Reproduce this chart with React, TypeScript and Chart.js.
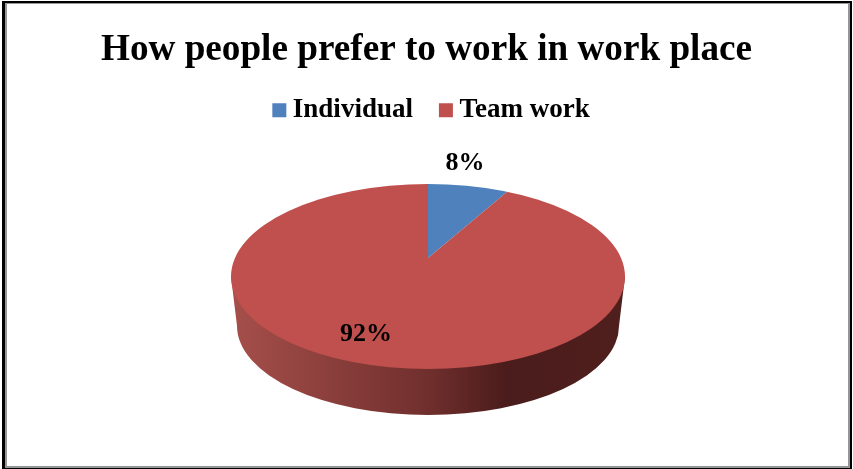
import React, { useEffect, useRef } from "react";
import { Chart, registerables } from "chart.js";

Chart.register(...registerables);

const chartTitle = "How people prefer to work in work place";
const categories = ["Individual", "Team work"];
const shares = [8, 92];
const sliceColors = ["#4f81bd", "#c0504d"];

const SERIF = "'Liberation Serif', 'Times New Roman', serif";

// Pie seen in perspective: the slices meet at the apex, which sits above the
// centre of the visible top ellipse.
const apex = { x: 428, y: 258 };
const tilt = 0.46;
const topFace = { x: 428, y: 276.5, rx: 197, ry: 92.5 };
const baseFace = { x: 428, y: 326, rx: 191, ry: 89 };
const labelSpots = [
  { x: 465, y: 163 },
  { x: 366, y: 334 },
];

const framePlugin = {
  id: "frame",
  beforeDraw(chart: any) {
    const { ctx } = chart;
    ctx.save();
    ctx.fillStyle = "#ffffff";
    ctx.fillRect(0, 0, 853, 469);
    ctx.fillStyle = "#000000";
    ctx.fillRect(2, 1, 850, 468);
    ctx.fillStyle = "#969696";
    ctx.fillRect(5, 3, 845, 465);
    ctx.fillStyle = "#ffffff";
    ctx.fillRect(7, 4, 841, 462);
    ctx.restore();
  },
};

// Moves the legend row under the title and centres its text block.
const legendShiftPlugin = {
  id: "legendShift",
  afterLayout(chart: any) {
    chart.legend.left += 8;
    chart.legend.right += 8;
    chart.legend.top -= 21;
    chart.legend.bottom -= 21;
  },
};

const pie3dPlugin = {
  id: "pie3d",
  beforeDatasetsDraw(chart: any) {
    const { ctx } = chart;
    const arc = chart.getDatasetMeta(0).data[0];
    const left = topFace.x - topFace.rx;
    const right = topFace.x + topFace.rx;

    // side wall
    const wall = ctx.createLinearGradient(left, 0, right, 0);
    wall.addColorStop(0, "#a64f4b");
    wall.addColorStop(0.5, "#702f2d");
    wall.addColorStop(0.7, "#4a1c1b");
    wall.addColorStop(1, "#4f1f1d");
    ctx.save();
    ctx.beginPath();
    ctx.moveTo(left, topFace.y);
    ctx.lineTo(baseFace.x - baseFace.rx, baseFace.y);
    ctx.ellipse(baseFace.x, baseFace.y, baseFace.rx, baseFace.ry, 0, Math.PI, 0, true);
    ctx.lineTo(right, topFace.y);
    ctx.closePath();
    ctx.fillStyle = wall;
    ctx.fill();
    ctx.restore();

    // top face: slices flattened around the apex and trimmed to the ellipse
    ctx.save();
    ctx.beginPath();
    ctx.ellipse(topFace.x, topFace.y, topFace.rx, topFace.ry, 0, 0, Math.PI * 2);
    ctx.clip();
    ctx.translate(apex.x, apex.y);
    ctx.scale(1, tilt);
    ctx.translate(-arc.x, -arc.y);
  },
  afterDatasetsDraw(chart: any) {
    const { ctx } = chart;
    ctx.restore();
    ctx.save();
    ctx.font = `bold 26px ${SERIF}`;
    ctx.fillStyle = "#000000";
    ctx.textAlign = "center";
    ctx.textBaseline = "middle";
    chart.data.datasets[0].data.forEach((value: number, i: number) => {
      ctx.fillText(`${value}%`, labelSpots[i].x, labelSpots[i].y);
    });
    ctx.restore();
  },
};

export default function App() {
  const canvasRef = useRef<HTMLCanvasElement | null>(null);

  useEffect(() => {
    const chart = new Chart(canvasRef.current as HTMLCanvasElement, {
      type: "pie",
      data: {
        labels: categories,
        datasets: [
          {
            data: shares,
            backgroundColor: sliceColors,
            borderWidth: 0,
            radius: 250,
            clip: false,
          } as any,
        ],
      },
      options: {
        responsive: false,
        animation: false,
        layout: { padding: { top: 20 } },
        plugins: {
          title: {
            display: true,
            text: chartTitle,
            color: "#000000",
            font: { family: SERIF, size: 37.2, weight: "bold" },
            padding: { top: 8, bottom: 12 },
          },
          legend: {
            display: true,
            position: "top",
            labels: {
              color: "#000000",
              font: { family: SERIF, size: 27, weight: "bold" },
              usePointStyle: true,
              pointStyle: "rect",
              boxWidth: 0.01,
              boxHeight: 14,
              padding: 33,
            },
          },
          tooltip: { enabled: false },
        },
      },
      plugins: [framePlugin, legendShiftPlugin, pie3dPlugin],
    } as any);
    return () => chart.destroy();
  }, []);

  return (
    <canvas
      ref={canvasRef}
      width={853}
      height={469}
      style={{ position: "fixed", left: 0, top: 0, display: "block" }}
    />
  );
}
